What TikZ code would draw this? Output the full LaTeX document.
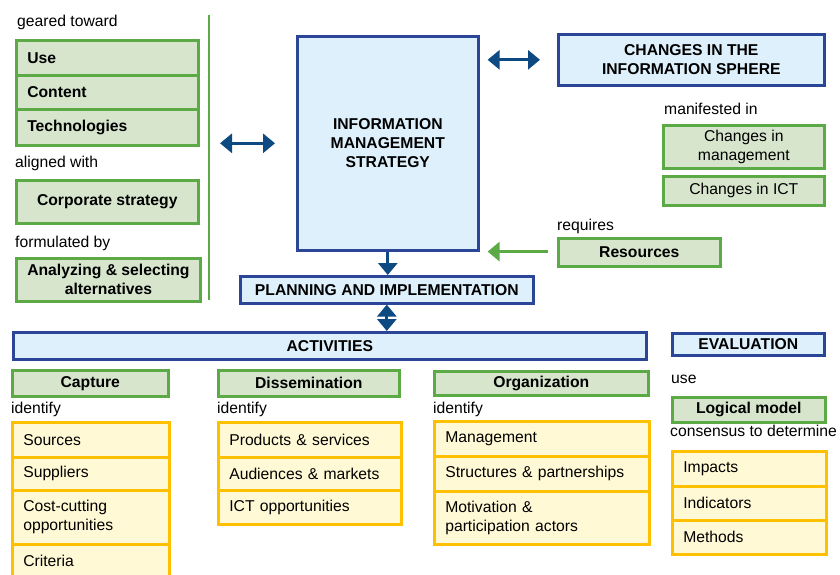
\documentclass[tikz,border=0pt]{standalone}
\usepackage{fontspec}
\setmainfont{Liberation Sans}
\usetikzlibrary{arrows.meta,calc}
\definecolor{gline}{HTML}{5BAA45}
\definecolor{gfill}{HTML}{D6E5CC}
\definecolor{bline}{HTML}{2B4696}
\definecolor{bfill}{HTML}{DEF0FB}
\definecolor{oline}{HTML}{FFC000}
\definecolor{ofill}{HTML}{FFF9D5}
\definecolor{arr}{HTML}{0E4A82}
\begin{document}
\begin{tikzpicture}[x=1pt,y=-1pt,font=\fontsize{15.7}{19}\selectfont,
  box/.style={draw,line width=2.6pt,inner sep=0pt,inner xsep=11pt,anchor=north west},
  gbox/.style={box,draw=gline,fill=gfill},
  bbox/.style={box,draw=bline,fill=bfill},
  obox/.style={box,draw=oline,fill=ofill},
  lbl/.style={anchor=base west,inner sep=0pt},
  barrow/.style={draw=arr,line width=3pt,{Triangle[width=19pt,length=12pt]}-{Triangle[width=19pt,length=12pt]}},
  barrowend/.style={draw=arr,line width=3pt,-{Triangle[width=19pt,length=12pt]}},
  garrow/.style={draw=gline,line width=3pt,-{Triangle[width=19pt,length=12pt]}}]
\useasboundingbox (0,0) rectangle (840,575);
% left column
\node[lbl] (lgeared) at (17,27) {geared toward};
\node[gbox,minimum width=182,minimum height=35,text width=160,align=left,font=\fontsize{15.7}{19}\selectfont\bfseries] (use) at (15,39) {Use};
\node[gbox,minimum width=182,minimum height=34,text width=160,align=left,font=\fontsize{15.7}{19}\selectfont\bfseries] (content) at (15,74) {Content};
\node[gbox,minimum width=182,minimum height=36,text width=160,align=left,font=\fontsize{15.7}{19}\selectfont\bfseries] (tech) at (15,108) {Technologies};
\node[lbl] (laligned) at (15,167) {aligned with};
\node[gbox,minimum width=182,minimum height=43,align=center,font=\fontsize{15.7}{19}\selectfont\bfseries] (corp) at (15,179) {Corporate strategy};
\node[lbl] (lform) at (15,247) {formulated by};
\node[gbox,minimum width=182,minimum height=43,align=center,font=\fontsize{15.7}{19}\selectfont\bfseries] (anal) at (15,257) {Analyzing \& selecting\\alternatives};
\coordinate (vtop) at (209,15);
\coordinate (vbot) at (209,300);
\draw[gline,line width=2.6pt] (vtop) -- (vbot);
% center
\node[bbox,minimum width=181,minimum height=214,align=center,font=\fontsize{15.7}{19}\selectfont\bfseries] (ims) at (296,35) {INFORMATION\\MANAGEMENT\\STRATEGY};
\node[bbox,minimum width=293,minimum height=27,align=center,font=\fontsize{15.7}{19}\selectfont\bfseries] (plan) at (239,275) {PLANNING AND IMPLEMENTATION};
% right
\node[bbox,minimum width=266,minimum height=51,align=center,font=\fontsize{15.7}{19}\selectfont\bfseries] (sphere) at (557,33) {CHANGES IN THE\\INFORMATION SPHERE};
\node[lbl] (lmanif) at (664,115) {manifested in};
\node[gbox,minimum width=161,minimum height=43,align=center] (chmgmt) at (662,124) {Changes in\\management};
\node[gbox,minimum width=161,minimum height=29,align=center] (chict) at (662,175) {Changes in ICT};
\node[lbl] (lreq) at (557,230) {requires};
\node[gbox,minimum width=162,minimum height=28,align=center,font=\fontsize{15.7}{19}\selectfont\bfseries] (res) at (557,237) {Resources};
% arrows
\draw[barrow] ([xshift=11pt]vtop |- ims.west) -- ([xshift=-21pt]ims.west);
\draw[barrow] ([xshift=8pt]ims.east |- sphere.west) -- ([xshift=-17pt]sphere.west);
\draw[garrow] ([xshift=-9pt]res.west |- ims.south east) -- ([xshift=8pt]ims.south east);
\draw[barrowend] (ims.south) -- (ims.south |- plan.north);
% activities
\node[bbox,minimum width=633,minimum height=27,align=center,font=\fontsize{15.7}{19}\selectfont\bfseries] (act) at (12,331) {ACTIVITIES};
\draw[barrow] (plan.south) -- (plan.south |- act.north);
\node[bbox,minimum width=152,minimum height=22,align=center,font=\fontsize{15.7}{19}\selectfont\bfseries] (eval) at (671,332) {EVALUATION};
% capture
\node[gbox,minimum width=156,minimum height=26,align=center,font=\fontsize{15.7}{19}\selectfont\bfseries] (capture) at (11,369) {Capture};
\node[lbl] (lid1) at (11,413) {identify};
\node[obox,minimum width=157,minimum height=35,text width=135,align=left] (sources) at (11,421) {Sources};
\node[obox,minimum width=157,minimum height=33,text width=135,align=left] (suppliers) at (11,456) {Suppliers};
\node[obox,minimum width=157,minimum height=54,text width=135,align=left] (cost) at (11,489) {Cost-cutting\\opportunities};
\node[obox,minimum width=157,minimum height=34,text width=135,align=left] (criteria) at (11,543) {Criteria};
% dissemination
\node[gbox,minimum width=181,minimum height=26,align=center,font=\fontsize{15.7}{19}\selectfont\bfseries] (dissem) at (217,369) {Dissemination};
\node[lbl] (lid2) at (217,413) {identify};
\node[obox,minimum width=183,minimum height=35,text width=161,align=left] (prod) at (217,421) {Products \& services};
\node[obox,minimum width=183,minimum height=33,text width=161,align=left] (aud) at (217,456) {Audiences \& markets};
\node[obox,minimum width=183,minimum height=34,text width=161,align=left] (ictopp) at (217,489) {ICT opportunities};
% organization
\node[gbox,minimum width=214,minimum height=24,align=center,font=\fontsize{15.7}{19}\selectfont\bfseries] (org) at (433,370) {Organization};
\node[lbl] (lid3) at (433,413) {identify};
\node[obox,minimum width=215,minimum height=35,text width=193,align=left] (mgmt) at (433,420) {Management};
\node[obox,minimum width=215,minimum height=35,text width=193,align=left] (struct) at (433,455) {Structures \& partnerships};
\node[obox,minimum width=215,minimum height=53,text width=193,align=left] (motiv) at (433,490) {Motivation \&\\participation actors};
% evaluation
\node[lbl] (luse) at (671,383) {use};
\node[gbox,minimum width=153,minimum height=25,align=center,font=\fontsize{15.7}{19}\selectfont\bfseries] (logical) at (671,396) {Logical model};
\node[lbl] (lcons) at (670,436) {consensus to determine};
\node[obox,minimum width=154,minimum height=35,text width=132,align=left] (impacts) at (671,450) {Impacts};
\node[obox,minimum width=154,minimum height=34,text width=132,align=left] (indic) at (671,485) {Indicators};
\node[obox,minimum width=154,minimum height=34,text width=132,align=left] (methods) at (671,519) {Methods};
\end{tikzpicture}
\end{document}
